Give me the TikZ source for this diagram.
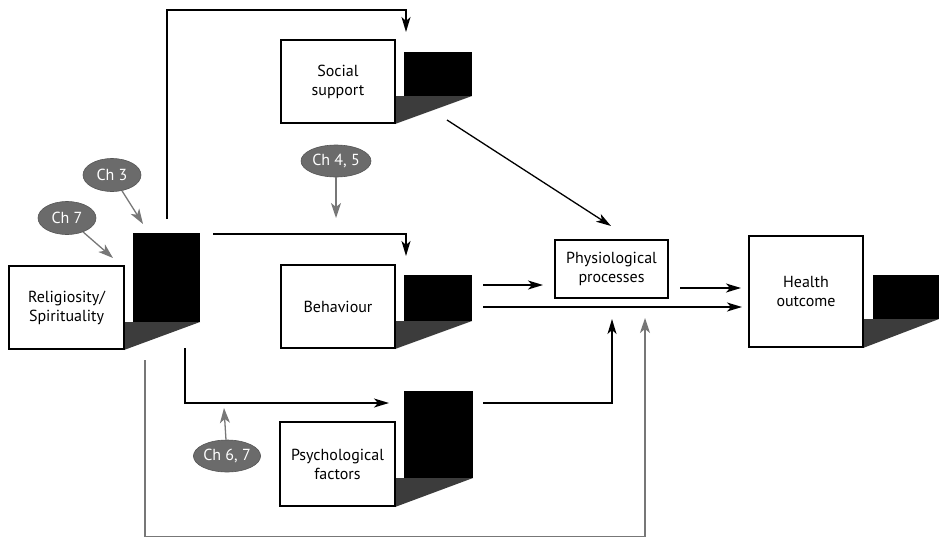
\documentclass[tikz,border=0pt]{standalone}
\usepackage{fontspec}
\setmainfont{PT Sans}
\usetikzlibrary{arrows.meta,shapes.geometric}
\definecolor{floorgrey}{HTML}{3C3C3C}
\definecolor{tagfill}{HTML}{6B6B6B}
\definecolor{tagedge}{HTML}{555555}
\definecolor{greyline}{HTML}{777777}

\begin{document}
\begin{tikzpicture}[x=1pt,y=-1pt,
  box/.style={draw=black,line width=2.4pt,fill=white,align=center,
    font=\fontsize{16}{19}\selectfont,inner sep=0pt,outer sep=0pt},
  block/.style={fill=black},
  floor/.style={fill=floorgrey},
  tag/.style={ellipse,fill=tagfill,draw=tagedge,line width=0.6pt,text=white,
    inner sep=0pt,minimum width=58pt,minimum height=33pt,
    font=\fontsize{16}{18}\selectfont},
  link/.style={line width=1.3pt,-{Stealth[length=15pt,width=9pt,inset=4pt]}},
  greylink/.style={link,draw=greyline,-{Stealth[length=15pt,width=10pt,inset=4pt,fill=greyline]}}
]
\useasboundingbox (0,0) rectangle (939,538);

% extruded backs and floors of the boxes
\fill[block] (133,233) rectangle (200,322);
\fill[floor] (124,322) -- (200,322) -- (124,350) -- cycle;
\fill[block] (404,52) rectangle (472,96);
\fill[floor] (395,96) -- (472,96) -- (395,124) -- cycle;
\fill[block] (404,275) rectangle (472,321);
\fill[floor] (395,321) -- (472,321) -- (395,349) -- cycle;
\fill[block] (404,391) rectangle (473,478);
\fill[floor] (395,478) -- (473,478) -- (395,507) -- cycle;
\fill[block] (873,275) rectangle (939,319);
\fill[floor] (863,319) -- (939,319) -- (863,348) -- cycle;

% boxes
\node[box,minimum width=114.6pt,minimum height=82.6pt] (rel) at (66.5,307.5) {Religiosity/\\Spirituality};
\node[box,minimum width=113.6pt,minimum height=82.6pt] (soc) at (338,81.5) {Social\\support};
\node[box,minimum width=113.6pt,minimum height=82.6pt] (beh) at (338,306.5) {Behaviour};
\node[box,minimum width=114.6pt,minimum height=83.6pt] (psy) at (337.5,464) {Psychological\\factors};
\node[box,minimum width=113.6pt,minimum height=110.6pt] (hea) at (806,291.5) {Health\\outcome};
\node[box,line width=2pt,minimum width=113pt,minimum height=58pt] (phy) at (611.5,269) {Physiological\\processes};

% chapter tags
\node[tag] (ch3) at (112,175) {Ch 3};
\node[tag] (ch7) at (67,218) {Ch 7};
\node[tag,minimum width=70pt,minimum height=32pt] (ch45) at (336,161) {Ch 4, 5};
\node[tag,minimum width=66pt,minimum height=32pt] (ch67) at (227,456) {Ch 6, 7};

% connector end points
\coordinate (relN) at (167,219);
\coordinate (socIn) at (406,32);
\coordinate (relE) at (213,234);
\coordinate (behIn) at (406,256);
\coordinate (relS) at (185,348);
\coordinate (psyIn) at (389,403);
\coordinate (relB) at (145,360);
\coordinate (phyB2) at (645,318);
\coordinate (socOut) at (447,120);
\coordinate (phyN) at (611,226);
\coordinate (behE1) at (483,285);
\coordinate (phyW) at (543,285);
\coordinate (behE2) at (483,307);
\coordinate (heaW2) at (742,307);
\coordinate (phyE) at (680,288);
\coordinate (heaW1) at (741,288);
\coordinate (psyE) at (483,403);
\coordinate (phyB1) at (612,319);
\coordinate (ch3to) at (143,224);
\coordinate (ch7to) at (113,258);
\coordinate (ch45to) at (336,218);
\coordinate (ch67to) at (224,408);

% pathways
\draw[link] (relN) -- (167,10) -- (406,10) -- (socIn);
\draw[link] (relE) -- (406,234) -- (behIn);
\draw[link] (relS) -- (185,403) -- (psyIn);
\draw[greylink] (relB) -- (145,536.5) -- (645,536.5) -- (phyB2);
\draw[link] (socOut) -- (phyN);
\draw[link] (behE1) -- (phyW);
\draw[link] (behE2) -- (heaW2);
\draw[link] (phyE) -- (heaW1);
\draw[link] (psyE) -- (612,403) -- (phyB1);

% tag pointers
\draw[greylink] (ch3) -- (ch3to);
\draw[greylink] (ch7) -- (ch7to);
\draw[greylink] (ch45) -- (ch45to);
\draw[greylink] (ch67) -- (ch67to);
\end{tikzpicture}
\end{document}
